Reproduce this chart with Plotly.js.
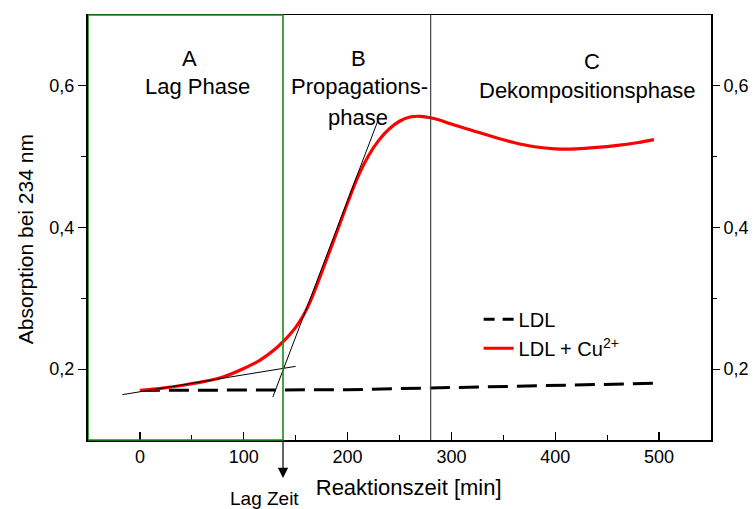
<!DOCTYPE html>
<html>
<head>
<meta charset="utf-8">
<script src="https://cdn.plot.ly/plotly-3.0.1.min.js"></script>
<style>html,body{margin:0;padding:0;background:#fff;}#chart{width:754px;height:509px;}</style>
</head>
<body>
<div id="chart"></div>
<script>
// Data (time in min, absorption at 234 nm)
const timeCu = [0, 20, 40, 60, 80, 100, 115, 130, 140, 145, 150, 155, 160, 165, 170, 180, 190, 200, 210, 220, 230, 240, 250, 260, 270, 280, 290, 300, 320, 340, 360, 380, 400, 420, 440, 460, 480, 495];
const absCu  = [0.170, 0.173, 0.177, 0.182, 0.189, 0.201, 0.212, 0.228, 0.242, 0.250, 0.259, 0.270, 0.283, 0.299, 0.317, 0.356, 0.395, 0.435, 0.472, 0.501, 0.523, 0.539, 0.550, 0.556, 0.557, 0.555, 0.551, 0.546, 0.537, 0.528, 0.520, 0.514, 0.511, 0.511, 0.513, 0.516, 0.520, 0.524];
const timeLDL = [0, 100, 200, 300, 400, 495];
const absLDL  = [0.170, 0.170, 0.171, 0.174, 0.177, 0.180];
// Tangent lines used to find the lag time
const tangent1X = [-17, 150];
const tangent1Y = [0.164, 0.204];
const tangent2X = [128, 229];
const tangent2Y = [0.1607, 0.550];
const lagTime = 137.8;
const phaseBoundary = 280;
const yTickVals = [0.2, 0.4, 0.6];
const yTickText = ["0,2", "0,4", "0,6"];
const xTickVals = [0, 100, 200, 300, 400, 500];
const xTickText = ["0", "100", "200", "300", "400", "500"];

const FONT = "Liberation Sans, Arial, sans-serif";

const traces = [
  {x: timeLDL, y: absLDL, type: 'scatter', mode: 'lines', name: 'LDL', showlegend: false,
   line: {color: '#000', width: 3, dash: '20px,9px'}},
  // legend entry for LDL (shorter dashes in the legend sample, as in the original)
  {x: [null], y: [null], type: 'scatter', mode: 'lines', name: 'LDL',
   line: {color: '#000', width: 3, dash: '11px,8px'}},
  {x: timeCu, y: absCu, type: 'scatter', mode: 'lines', name: 'LDL + Cu<sup>2+</sup>',
   line: {color: '#ff0000', width: 3.2, shape: 'spline', smoothing: 0.8}},
  {x: tangent1X, y: tangent1Y, type: 'scatter', mode: 'lines', showlegend: false,
   line: {color: '#000', width: 1}, hoverinfo: 'skip'},
  {x: tangent2X, y: tangent2Y, type: 'scatter', mode: 'lines', showlegend: false,
   line: {color: '#000', width: 1}, hoverinfo: 'skip'},
  {x: [null], y: [null], yaxis: 'y2', type: 'scatter', mode: 'lines', showlegend: false, hoverinfo: 'skip'}
];

const ann = (text, x, y, size) => ({text, x, y, xref: 'x', yref: 'y', showarrow: false,
  xanchor: 'center', yanchor: 'middle', font: {family: FONT, size: size || 22, color: '#000'}});

const layout = {
  width: 754, height: 509,
  margin: {l: 88, r: 43, t: 15, b: 69},
  paper_bgcolor: '#fff', plot_bgcolor: '#fff',
  font: {family: FONT, color: '#000'},
  showlegend: true,
  legend: {x: 0.627, y: 0.33, xanchor: 'left', yanchor: 'top', bgcolor: 'rgba(0,0,0,0)',
           font: {family: FONT, size: 20, color: '#000'}, tracegroupgap: 0},
  xaxis: {range: [-50, 550], showgrid: false, zeroline: false,
          showline: true, linecolor: '#000', linewidth: 1.5, mirror: true,
          ticks: 'inside', ticklen: 8, tickwidth: 1.3, tickcolor: '#000',
          tickvals: xTickVals, ticktext: xTickText,
          minor: {ticks: 'inside', ticklen: 5, tickwidth: 1.2, tickcolor: '#000', tickvals: [50, 150, 250, 350, 450]},
          tickfont: {family: FONT, size: 18, color: '#000'},
          title: {text: '&nbsp;&nbsp;&nbsp;Reaktionszeit [min]', font: {family: FONT, size: 22, color: '#000'}, standoff: 13}},
  yaxis: {range: [0.1, 0.7], showgrid: false, zeroline: false,
          showline: true, linecolor: '#000', linewidth: 2,
          ticks: 'outside', ticklen: 8, tickwidth: 1.3, tickcolor: '#000',
          tickvals: yTickVals, ticktext: yTickText,
          minor: {ticks: 'outside', ticklen: 5, tickwidth: 1.2, tickcolor: '#000', tickvals: [0.3, 0.5]},
          tickfont: {family: FONT, size: 18, color: '#000'},
          title: {text: 'Absorption bei 234 nm&nbsp;&nbsp;&nbsp;&nbsp;', font: {family: FONT, size: 21, color: '#000'}, standoff: 10}},
  yaxis2: {range: [0.1, 0.7], overlaying: 'y', side: 'right', showgrid: false, zeroline: false,
           showline: true, linecolor: '#000', linewidth: 2,
           ticks: 'outside', ticklen: 7, tickwidth: 1.3, tickcolor: '#000',
           tickvals: yTickVals, ticktext: yTickText,
           minor: {ticks: 'outside', ticklen: 4, tickwidth: 1.2, tickcolor: '#000', tickvals: [0.3, 0.5]},
           tickfont: {family: FONT, size: 18, color: '#000'}},
  shapes: [
    {type: 'rect', xref: 'x', yref: 'paper', x0: -50, x1: lagTime, y0: 0, y1: 1,
     line: {color: '#1a8a1a', width: 1.6}, fillcolor: 'rgba(0,0,0,0)', layer: 'above'},
    {type: 'line', xref: 'x', yref: 'paper', x0: phaseBoundary, x1: phaseBoundary, y0: 0, y1: 1,
     line: {color: '#444', width: 1.2}, layer: 'above'}
  ],
  annotations: [
    ann('A', 48, 0.638),
    ann('Lag Phase', 55.3, 0.5986),
    ann('B', 210.6, 0.638),
    ann('Propagations-', 211.5, 0.5986),
    ann('phase', 209.6, 0.556),
    ann('C', 435.6, 0.634),
    ann('Dekompositionsphase', 430.3, 0.593),
    {text: '', x: lagTime, y: -0.0894, xref: 'x', yref: 'paper', showarrow: true,
     ax: 0, ay: -38, axref: 'pixel', ayref: 'pixel', arrowhead: 2, arrowsize: 1.7, arrowwidth: 1.2, arrowcolor: '#000'},
    {text: 'Lag Zeit', x: 120, y: -0.138, xref: 'x', yref: 'paper', showarrow: false,
     xanchor: 'center', yanchor: 'middle', font: {family: FONT, size: 19, color: '#000'}}
  ]
};

Plotly.newPlot('chart', traces, layout, {displayModeBar: false, staticPlot: true});
</script>
</body>
</html>
